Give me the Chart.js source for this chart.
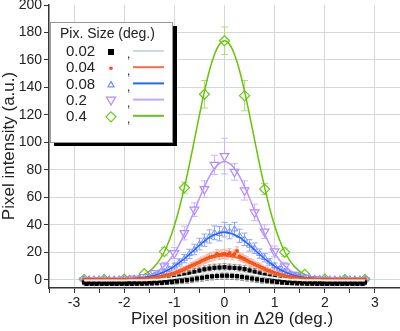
<!DOCTYPE html>
<html>
<head>
<meta charset="utf-8">
<script src="https://cdn.jsdelivr.net/npm/chart.js@4.4.0/dist/chart.umd.min.js"></script>
<style>
  html, body { margin: 0; padding: 0; background: #fff; }
  #wrap { width: 400px; height: 331px; }
</style>
</head>
<body>
<div id="wrap"><canvas id="chart" width="400" height="331"></canvas></div>
<script>
// pixel sizes (deg.) shown in the legend
const sizeLabels = ['0.02', '0.04', '0.08', '0.2', '0.4'];

// x positions (deg.)
const xs05 = [-2.8,-2.75,-2.7,-2.65,-2.6,-2.55,-2.5,-2.45,-2.4,-2.35,-2.3,-2.25,-2.2,-2.15,-2.1,-2.05,
  -2,-1.95,-1.9,-1.85,-1.8,-1.75,-1.7,-1.65,-1.6,-1.55,-1.5,-1.45,-1.4,-1.35,-1.3,-1.25,-1.2,-1.15,-1.1,-1.05,
  -1,-0.95,-0.9,-0.85,-0.8,-0.75,-0.7,-0.65,-0.6,-0.55,-0.5,-0.45,-0.4,-0.35,-0.3,-0.25,-0.2,-0.15,-0.1,-0.05,
  0,0.05,0.1,0.15,0.2,0.25,0.3,0.35,0.4,0.45,0.5,0.55,0.6,0.65,0.7,0.75,0.8,0.85,0.9,0.95,
  1,1.05,1.1,1.15,1.2,1.25,1.3,1.35,1.4,1.45,1.5,1.55,1.6,1.65,1.7,1.75,1.8,1.85,1.9,1.95,
  2,2.05,2.1,2.15,2.2,2.25,2.3,2.35,2.4,2.45,2.5,2.55,2.6,2.65,2.7,2.75,2.8];
const xs10 = [-2.8,-2.7,-2.6,-2.5,-2.4,-2.3,-2.2,-2.1,-2,-1.9,-1.8,-1.7,-1.6,-1.5,-1.4,-1.3,-1.2,-1.1,
  -1,-0.9,-0.8,-0.7,-0.6,-0.5,-0.4,-0.3,-0.2,-0.1,0,0.1,0.2,0.3,0.4,0.5,0.6,0.7,0.8,0.9,
  1,1.1,1.2,1.3,1.4,1.5,1.6,1.7,1.8,1.9,2,2.1,2.2,2.3,2.4,2.5,2.6,2.7,2.8];
const xs20 = [-2.8,-2.6,-2.4,-2.2,-2,-1.8,-1.6,-1.4,-1.2,-1,-0.8,-0.6,-0.4,-0.2,0,
  0.2,0.4,0.6,0.8,1,1.2,1.4,1.6,1.8,2,2.2,2.4,2.6,2.8];
const xs40 = [-2.8,-2.4,-2,-1.6,-1.2,-0.8,-0.4,0,0.4,0.8,1.2,1.6,2,2.4,2.8];

// 0.02 deg. measured (step 0.05)
const blackY = [-2.0,-3.0,-2.0,-3.0,-2.0,-3.0,-2.0,-3.0,-2.0,-3.0,-2.0,-3.0,-2.0,-3.0,-2.0,-3.0,
  -2.0,-3.0,-1.9,-3.0,-1.9,-2.9,-1.8,-2.9,-1.7,-2.8,-1.5,-2.7,-1.2,-2.5,-0.8,-2.3,-0.3,-2.0,0.4,-1.6,
  1.2,-1.2,2.2,-0.7,3.3,-0.3,4.5,0.2,5.7,0.9,6.7,1.5,7.6,2.1,8.2,2.5,8.7,2.8,8.9,3.0,
  9.1,
  3.0,8.8,2.9,8.6,2.6,8.3,2.1,7.7,1.6,6.8,0.9,5.8,0.3,4.6,-0.3,3.4,-0.7,2.3,-1.2,1.3,
  -1.6,0.5,-2.0,-0.2,-2.3,-0.7,-2.5,-1.1,-2.7,-1.4,-2.8,-1.6,-2.9,-1.7,-2.9,-1.8,-3.0,-1.9,-3.0,-2.0,
  -3.0,-2.0,-3.0,-2.0,-3.0,-2.0,-3.0,-2.0,-3.0,-2.0,-3.0,-2.0,-3.0,-2.0,-3.0,-2.0];
const blackErr = [0.5,0.5,0.5,0.5,0.5,0.5,0.5,0.5,0.5,0.5,0.5,0.5,0.5,0.5,0.5,0.5,
  0.5,0.5,0.5,0.6,0.6,0.6,0.7,0.7,0.8,0.8,0.9,1,1,1.1,1.2,1.3,1.4,1.5,1.6,1.7,
  1.8,1.9,2,2.1,2.2,2.2,2.3,2.3,2.4,2.4,2.5,2.5,2.5,2.5,2.6,2.6,2.6,2.6,2.6,2.6,
  2.6,
  2.6,2.6,2.6,2.6,2.6,2.5,2.5,2.5,2.5,2.4,2.4,2.3,2.3,2.2,2.2,2.1,2,1.9,1.8,1.7,
  1.6,1.5,1.4,1.3,1.2,1.1,1,1,0.9,0.8,0.8,0.7,0.7,0.6,0.6,0.6,0.5,0.5,0.5,0.5,
  0.5,0.5,0.5,0.5,0.5,0.5,0.5,0.5,0.5,0.5,0.5,0.5,0.5,0.5,0.5,0.5];

// 0.04 deg. measured (step 0.05)
const orangeY = [0,0,0.1,0,0,0.1,0,0,0,0.1,0,0,0.1,0,0,0.1,
  0.1,0.1,0.2,0.2,0.3,0.3,0.4,0.5,0.6,0.8,0.9,1.1,1.4,1.6,1.9,2.3,2.7,3.2,3.7,4.2,
  4.8,5.5,6.2,6.9,7.7,8.6,9.4,10.3,11.1,12.0,12.8,13.9,14.6,15.4,16.3,16.8,17.2,18.9,17.9,18.6,
  19.0,
  18.2,19.5,17.6,18.8,21.0,16.9,16.0,15.2,14.1,13.0,12.2,11.3,10.4,9.6,8.7,7.9,7.0,6.3,5.6,4.9,
  4.3,3.8,3.2,2.8,2.4,2.0,1.7,1.4,1.2,1.0,0.8,0.7,0.5,0.4,0.4,0.3,0.2,0.2,0.1,0.1,
  0,0.1,0,0,0.1,0,0,0.1,0,0,0,0.1,0,0,0.1,0.2];
const orangeErr = [0.3,0.3,0.3,0.3,0.3,0.3,0.3,0.3,0.3,0.3,0.3,0.3,0.3,0.3,0.3,0.3,
  0.3,0.3,0.3,0.4,0.4,0.4,0.5,0.5,0.6,0.6,0.7,0.8,0.8,0.9,1,1,1.1,1.2,1.3,1.4,
  1.5,1.6,1.7,1.8,1.9,2,2.1,2.2,2.3,2.4,2.5,2.6,2.7,2.8,2.9,3,3,3.1,3.1,3.2,
  3.2,
  3.2,3.1,3.1,3,3,2.9,2.8,2.7,2.6,2.5,2.4,2.3,2.2,2.1,2,1.9,1.8,1.7,1.6,1.5,
  1.4,1.3,1.2,1.1,1,1,0.9,0.8,0.8,0.7,0.6,0.6,0.5,0.5,0.4,0.4,0.4,0.3,0.3,0.3,
  0.3,0.3,0.3,0.3,0.3,0.3,0.3,0.3,0.3,0.3,0.3,0.3,0.3,0.3,0.3,0.3];

// 0.08 deg. measured (step 0.1)
const blueY = [0.5,0.5,0.5,0.5,0.5,0.5,0.5,0.5,
  0.7,0.8,1.0,1.3,1.7,2.3,3.2,4.3,5.8,7.6,9.9,12.6,15.4,18.8,22.0,26.0,28.8,31.5,34.2,33.5,
  36.5,
  35.0,36.8,32.0,29.5,25.0,23.0,19.0,16.0,12.8,10.0,7.8,6.0,4.4,3.2,2.4,1.8,1.3,1.0,0.8,0.7,
  0.5,0.5,0.5,0.5,0.5,0.5,0.5,0.5];
const blueErr = [0.5,0.5,0.5,0.5,0.5,0.5,0.5,0.5,
  0.5,0.5,0.6,0.7,0.8,0.9,1.1,1.3,1.6,1.9,2.2,2.6,3.0,3.4,3.8,4.2,4.5,4.8,5.0,5.2,
  5.3,
  5.2,5.0,4.8,4.5,4.2,3.8,3.4,3.0,2.6,2.2,1.9,1.6,1.3,1.1,0.9,0.8,0.7,0.6,0.5,0.5,
  0.5,0.5,0.5,0.5,0.5,0.5,0.5,0.5];

// 0.2 deg. measured (step 0.2)
const purpleY = [-0.5,-0.5,-0.5,-0.5,0.2,0.8,2.0,4.8,9.7,19.4,34,51,66,83.6,90,
  78.5,65,49,35,20.6,9.7,3.5,1.5,0.5,-0.3,-0.5,-0.5,-0.5,-0.5];
const purpleErr = [0.5,0.5,0.5,0.5,0.5,1,1,2,3,4,5,5,6,7,13,
  6,7,6,5,4,3,2,1,1,0.5,0.5,0.5,0.5,0.5];

// 0.4 deg. measured (step 0.4)
const greenY = [0.3,0.3,0.5,4.4,20.5,67,135,174,134,66,20,4,0.5,0.3,0.3];
const greenErr = [0.3,0.3,0.5,1.5,3,4,10,10,11,4,3,1.5,0.5,0.3,0.3];

// fitted curves (step 0.1)
const blackFit = [-0.5,-0.5,-0.5,-0.5,-0.5,-0.5,-0.5,-0.5,
  -0.5,-0.4,-0.4,-0.3,-0.3,-0.2,0.0,0.2,0.5,0.9,1.3,1.8,2.3,2.9,3.6,4.2,4.8,5.3,5.7,5.9,
  6.0,
  5.9,5.7,5.3,4.8,4.2,3.6,2.9,2.3,1.8,1.3,0.9,0.5,0.2,0.0,-0.2,-0.3,-0.3,-0.4,-0.4,-0.5,
  -0.5,-0.5,-0.5,-0.5,-0.5,-0.5,-0.5,-0.5];
const orangeFit = [0,0,0,0,0,0,0,0,
  0.1,0.2,0.3,0.4,0.6,0.9,1.4,1.9,2.7,3.6,4.8,6.1,7.6,9.3,11.0,12.7,14.2,15.6,16.6,17.3,
  17.5,
  17.3,16.6,15.6,14.2,12.7,11.0,9.3,7.6,6.1,4.8,3.6,2.7,1.9,1.4,0.9,0.6,0.4,0.3,0.2,0.1,
  0,0,0,0,0,0,0,0];
const blueFit = [0.5,0.5,0.5,0.5,0.5,0.5,0.5,0.5,
  0.7,0.8,1.0,1.3,1.7,2.3,3.1,4.3,5.7,7.6,9.8,12.4,15.3,18.5,21.8,25.1,28.1,30.8,32.8,34.1,
  34.5,
  34.1,32.8,30.8,28.1,25.1,21.8,18.5,15.3,12.4,9.8,7.6,5.7,4.3,3.1,2.3,1.7,1.3,1.0,0.8,0.7,
  0.5,0.5,0.5,0.5,0.5,0.5,0.5,0.5];
const purpleFit = [0,0,0,0,0,0,0,0,
  0.2,0.4,0.7,1.2,1.9,3.0,4.6,7.0,10.1,14.2,19.4,25.8,33.2,41.5,50.3,59.3,67.8,75.3,81.0,84.7,
  86,
  84.7,81.0,75.3,67.8,59.3,50.3,41.5,33.2,25.8,19.4,14.2,10.1,7.0,4.6,3.0,1.9,1.2,0.7,0.4,0.2,
  0,0,0,0,0,0,0,0];
const greenFit = [0.3,0.3,0.3,0.3,0.3,0.3,0.3,0.3,
  0.5,0.8,1.4,2.4,3.8,6.1,9.4,14.1,20.4,28.7,39.3,52.2,67.2,83.9,101.8,119.9,137.1,152.3,163.9,171.4,
  174,
  171.4,163.9,152.3,137.1,119.9,101.8,83.9,67.2,52.2,39.3,28.7,20.4,14.1,9.4,6.1,3.8,2.4,1.4,0.8,0.5,
  0.3,0.3,0.3,0.3,0.3,0.3,0.3,0.3];

const FONT = '"Liberation Sans", Arial, sans-serif';
const GRID = '#d4dada';
const CLEAR = 'rgba(0,0,0,0)';

const zip = (xs, ys) => xs.map((x, i) => ({ x: x, y: ys[i] }));

// error bars drawn under each marker series
const errorBars = {
  id: 'errorBars',
  beforeDatasetDraw(chart, args) {
    const ds = chart.data.datasets[args.index];
    if (!ds.err) return;
    const ctx = chart.ctx;
    const yScale = chart.scales.y;
    ctx.save();
    ctx.strokeStyle = ds.errColor;
    ctx.lineWidth = 1;
    args.meta.data.forEach((pt, i) => {
      const v = ds.data[i].y;
      const e = ds.err[i];
      const top = yScale.getPixelForValue(v + e);
      const bot = yScale.getPixelForValue(v - e);
      ctx.beginPath();
      ctx.moveTo(pt.x, top);
      ctx.lineTo(pt.x, bot);
      if (top < bot - 3) {
        ctx.moveTo(pt.x - ds.cap, top);
        ctx.lineTo(pt.x + ds.cap, top);
        ctx.moveTo(pt.x - ds.cap, bot);
        ctx.lineTo(pt.x + ds.cap, bot);
      }
      ctx.stroke();
    });
    ctx.restore();
  }
};

// legend box with shadow, axis titles
const boxLegend = {
  id: 'boxLegend',
  afterDraw(chart) {
    const ctx = chart.ctx;
    ctx.save();
    ctx.fillStyle = '#000';
    ctx.fillRect(54, 26, 123, 120);
    ctx.fillStyle = '#fff';
    ctx.fillRect(50, 22, 123, 121);
    ctx.strokeStyle = '#999';
    ctx.lineWidth = 1;
    ctx.strokeRect(50.5, 22.5, 122, 120);

    ctx.fillStyle = '#222';
    ctx.textBaseline = 'middle';
    ctx.font = '14px ' + FONT;
    ctx.fillText('Pix. Size (deg.)', 60, 34);

    const lineColors = ['#c8dcdc', '#f86a48', '#1a6cf0', '#c4a6fa', '#66c020'];
    sizeLabels.forEach((lab, i) => {
      const y = 52 + i * 16.2;
      ctx.fillStyle = '#222';
      ctx.font = '15px ' + FONT;
      ctx.fillText(lab, 66, y);
      ctx.font = '12px ' + FONT;
      ctx.fillText(',', 127, y + 3);
      // marker
      const mx = 111;
      ctx.lineWidth = 1.2;
      if (i === 0) {
        ctx.fillStyle = '#000';
        ctx.fillRect(mx - 3, y - 3, 6, 6);
      } else if (i === 1) {
        ctx.fillStyle = '#ff4a10';
        ctx.beginPath(); ctx.arc(mx, y, 1.8, 0, Math.PI * 2); ctx.fill();
      } else if (i === 2) {
        ctx.strokeStyle = '#7a8cff';
        ctx.beginPath(); ctx.moveTo(mx, y - 3); ctx.lineTo(mx + 3, y + 2.5); ctx.lineTo(mx - 3, y + 2.5); ctx.closePath(); ctx.stroke();
      } else if (i === 3) {
        ctx.strokeStyle = '#b08aff';
        ctx.beginPath(); ctx.moveTo(mx - 4.5, y - 3.5); ctx.lineTo(mx + 4.5, y - 3.5); ctx.lineTo(mx, y + 4.5); ctx.closePath(); ctx.stroke();
      } else {
        ctx.strokeStyle = '#6cc81a';
        ctx.beginPath(); ctx.moveTo(mx, y - 5); ctx.lineTo(mx + 5, y); ctx.lineTo(mx, y + 5); ctx.lineTo(mx - 5, y); ctx.closePath(); ctx.stroke();
      }
      ctx.strokeStyle = lineColors[i];
      ctx.lineWidth = 2;
      ctx.beginPath(); ctx.moveTo(133, y - 1); ctx.lineTo(164, y - 1); ctx.stroke();
    });

    // axis titles
    ctx.fillStyle = '#222';
    ctx.font = '17px ' + FONT;
    ctx.textAlign = 'center';
    ctx.fillText('Pixel position in \u03942\u03b8 (deg.)', 232, 319);
    ctx.translate(9, 146);
    ctx.rotate(-Math.PI / 2);
    ctx.fillText('Pixel intensity (a.u.)', 0, 0);
    ctx.restore();
  }
};

const fitSet = (data, color, width, order) => ({
  data: zip(xs10, data), showLine: true, borderColor: color, borderWidth: width,
  pointRadius: 0, tension: 0.4, order: order
});
const markSet = (xs, ys, errs, opts) => Object.assign({
  data: zip(xs, ys), err: errs, showLine: false
}, opts);

new Chart(document.getElementById('chart'), {
  type: 'scatter',
  data: {
    datasets: [
      fitSet(blackFit, '#e8f2f2', 2, 0),
      markSet(xs05, blackY, blackErr, { pointStyle: 'rect', pointRadius: 3, backgroundColor: '#000', borderColor: '#000', pointBorderWidth: 0, errColor: '#8a8a8a', cap: 2, order: 1 }),
      fitSet(orangeFit, '#ff5a1a', 1.8, 2),
      markSet(xs05, orangeY, orangeErr, { pointStyle: 'circle', pointRadius: 2, backgroundColor: '#ff4a0a', borderColor: '#ff4a0a', pointBorderWidth: 0, errColor: '#f6b2a6', cap: 2, order: 3 }),
      fitSet(blueFit, '#1a66ff', 1.5, 4),
      markSet(xs10, blueY, blueErr, { pointStyle: 'triangle', pointRadius: 3.5, backgroundColor: CLEAR, borderColor: '#7a8cff', pointBorderWidth: 1, errColor: '#8fa6ff', cap: 3, order: 5 }),
      fitSet(purpleFit, '#b994ff', 1.5, 6),
      markSet(xs20, purpleY, purpleErr, { pointStyle: 'triangle', rotation: 180, pointRadius: 5, backgroundColor: '#fff', borderColor: '#b08aff', pointBorderWidth: 1.2, errColor: '#c9b6ff', cap: 3.5, order: 7 }),
      fitSet(greenFit, '#66c400', 1.5, 8),
      markSet(xs40, greenY, greenErr, { pointStyle: 'rectRot', pointRadius: 5, backgroundColor: '#fff', borderColor: '#6cc81a', pointBorderWidth: 1.2, errColor: '#a9dc7c', cap: 3.5, order: 9 })
    ]
  },
  options: {
    responsive: false,
    animation: false,
    events: [],
    layout: { autoPadding: false, padding: { top: 5, right: 0, bottom: 0, left: 0 } },
    plugins: { legend: { display: false }, tooltip: { enabled: false } },
    scales: {
      x: {
        type: 'linear', min: -3.5, max: 3.5,
        ticks: {
          stepSize: 0.5, autoSkip: false, maxRotation: 0, padding: 2,
          color: '#222', font: { family: FONT, size: 14 },
          callback: v => Number.isInteger(v) ? String(v) : ''
        },
        grid: {
          color: c => (c.tick && Number.isInteger(c.tick.value) && Math.abs(c.tick.value) < 3.5) ? GRID : CLEAR,
          tickColor: '#333', tickLength: 5
        },
        border: { color: '#333', width: 1.5 },
        afterFit: s => { s.height = 43; s.paddingLeft = 0; s.paddingRight = 0; }
      },
      y: {
        type: 'linear', min: -6, max: 200,
        ticks: {
          stepSize: 10, includeBounds: false, padding: 2,
          color: '#222', font: { family: FONT, size: 14 },
          callback: v => v % 20 === 0 ? String(v) : ''
        },
        grid: {
          color: c => (c.tick && c.tick.value % 20 === 0 && c.tick.value < 200) ? GRID : CLEAR,
          tickColor: '#333', tickLength: 5
        },
        border: { color: '#333', width: 1.5 },
        afterFit: s => { s.width = 49; s.paddingTop = 0; s.paddingBottom = 0; }
      }
    }
  },
  plugins: [errorBars, boxLegend]
});
</script>
</body>
</html>
